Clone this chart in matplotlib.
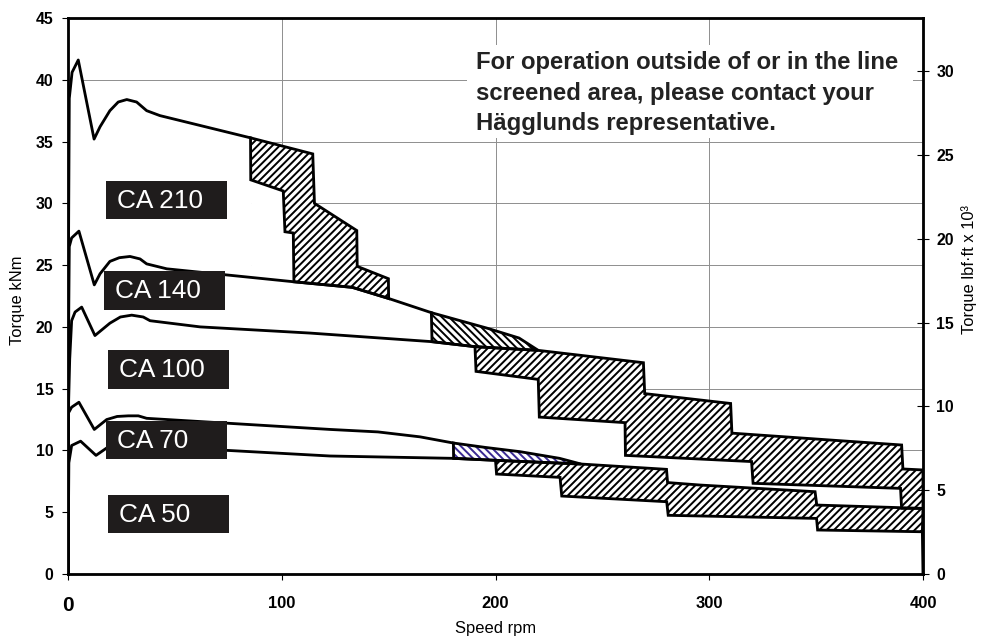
import matplotlib

matplotlib.use("Agg")
import matplotlib.pyplot as plt
import numpy as np
from matplotlib.patches import Polygon, Rectangle

plt.rcParams["font.family"] = "sans-serif"
plt.rcParams["font.sans-serif"] = ["Liberation Sans", "Arial", "DejaVu Sans"]
plt.rcParams["hatch.linewidth"] = 1.6

DPI = 88
KNM_TO_KLBFFT = 0.73756

# torque curves, speed [rpm] vs torque [kNm]
ca210_x = [0, 0.2, 0.6, 1.9, 4.8, 12.2, 15.0, 19.6, 23.5, 27.5, 32.1, 36.8, 43.0, 85.4]
ca210_y = [0, 25.0, 38.5, 40.6, 41.6, 35.2, 36.2, 37.5, 38.2, 38.4, 38.2, 37.5, 37.1, 35.3]

ca140_x = [0, 0.2, 0.6, 1.7, 5.1, 12.3, 15.0, 19.6, 24.0, 29.0, 33.7, 36.8, 46.2, 105.7, 133.0, 150.0, 170.0]
ca140_y = [0, 18.0, 26.5, 27.2, 27.75, 23.4, 24.3, 25.3, 25.6, 25.7, 25.5, 25.1, 24.7, 23.65, 23.2, 22.3, 21.15]

ca100_x = [0, 0.3, 0.8, 1.7, 3.3, 6.4, 12.6, 19.6, 24.5, 29.8, 35.2, 38.4, 61.8, 113.2, 170.6, 190.4]
ca100_y = [0, 14.0, 17.4, 20.5, 21.2, 21.6, 19.3, 20.3, 20.8, 20.95, 20.8, 20.5, 20.0, 19.5, 18.8, 18.4]

ca70_x = [0, 0.1, 1.7, 5.1, 12.3, 18.1, 23.0, 28.2, 32.9, 36.8, 122.6, 145.0, 164.7, 180.3]
ca70_y = [0, 13.0, 13.5, 13.9, 11.7, 12.5, 12.75, 12.8, 12.8, 12.6, 11.7, 11.5, 11.1, 10.6]

ca50_x = [0, 0.4, 1.7, 5.9, 13.1, 18.1, 28.0, 40.0, 75.0, 122.6, 180.3, 200.0]
ca50_y = [0, 9.0, 10.4, 10.75, 9.6, 10.2, 10.4, 10.2, 10.0, 9.55, 9.36, 9.2]

# line screened areas: upper chain and lower chain, both from the left corner
ca210_top_x = [85.4, 114.5, 115.3, 135.1, 135.3, 149.9, 150.0]
ca210_top_y = [35.3, 34.0, 30.0, 27.8, 24.9, 23.9, 22.3]
ca210_bot_x = [85.4, 85.5, 100.7, 101.5, 105.4, 105.7, 133.0, 150.0]
ca210_bot_y = [35.3, 31.9, 31.0, 27.7, 27.6, 23.65, 23.2, 22.3]

ca140_top_x = [170.0, 196.0, 211.0, 220.0]
ca140_top_y = [21.15, 19.9, 19.1, 18.1]
ca140_bot_x = [170.0, 170.3, 190.4, 220.0]
ca140_bot_y = [21.15, 18.8, 18.4, 18.1]

ca100_top_x = [190.4, 220.0, 269.2, 269.8, 310.0, 310.6, 390.0, 390.6, 400.0]
ca100_top_y = [18.4, 18.1, 17.1, 14.6, 13.8, 11.4, 10.44, 8.5, 8.42]
ca100_bot_x = [190.4, 190.9, 220.0, 220.5, 260.6, 260.8, 319.8, 320.5, 389.5, 390.0, 400.0]
ca100_bot_y = [18.4, 16.4, 15.75, 12.7, 12.25, 9.6, 9.1, 7.34, 6.93, 5.31, 5.31]

ca70_top_x = [180.3, 195.0, 211.5, 230.0, 240.0]
ca70_top_y = [10.6, 10.25, 9.9, 9.36, 8.9]
ca70_bot_x = [180.3, 180.4, 200.0, 240.0]
ca70_bot_y = [10.6, 9.36, 9.2, 8.9]

ca50_top_x = [200.0, 240.0, 280.0, 280.5, 295.7, 349.5, 350.3, 400.0]
ca50_top_y = [9.2, 8.9, 8.47, 7.4, 7.2, 6.66, 5.58, 5.31]
ca50_bot_x = [200.0, 200.5, 230.2, 231.0, 280.1, 280.8, 350.2, 350.7, 399.7]
ca50_bot_y = [9.2, 8.09, 7.82, 6.31, 5.85, 4.75, 4.5, 3.56, 3.42]

ca50_drop_x = [399.7, 400.0]
ca50_drop_y = [3.42, 0.0]

models = ["CA 210", "CA 140", "CA 100", "CA 70", "CA 50"]
speed_ticks = [0, 100, 200, 300, 400]
knm_ticks = [0, 5, 10, 15, 20, 25, 30, 35, 40, 45]
lbf_ticks = [0, 5, 10, 15, 20, 25, 30]
note = ("For operation outside of or in the line\n"
        "screened area, please contact your\n"
        "Hägglunds representative.")

curves = [(ca210_x, ca210_y), (ca140_x, ca140_y), (ca100_x, ca100_y),
          (ca70_x, ca70_y), (ca50_x, ca50_y)]
areas = [
    (ca210_top_x, ca210_top_y, ca210_bot_x, ca210_bot_y, "////", "black"),
    (ca140_top_x, ca140_top_y, ca140_bot_x, ca140_bot_y, "\\\\\\\\", "black"),
    (ca100_top_x, ca100_top_y, ca100_bot_x, ca100_bot_y, "////", "black"),
    (ca70_top_x, ca70_top_y, ca70_bot_x, ca70_bot_y, "\\\\\\\\", "#3b2a94"),
    (ca50_top_x, ca50_top_y, ca50_bot_x, ca50_bot_y, "////", "black"),
]
# lower-left corner of the black name plates, in data units
plate_x = [17.8, 17.0, 18.9, 18.0, 18.9]
plate_y = [28.7, 21.4, 15.0, 9.3, 3.3]

fig = plt.figure(figsize=(984 / DPI, 639 / DPI), dpi=DPI)
ax = fig.add_axes([68 / 984, 1 - 574 / 639, 855 / 984, 556 / 639])
ax.set_xlim(0, 400)
ax.set_ylim(0, 45)
ax.set_xticks(speed_ticks, [str(t) for t in speed_ticks])
ax.set_yticks(knm_ticks, [str(t) for t in knm_ticks])
ax.grid(True, color="#8f8f8f", lw=0.8)
ax.set_axisbelow(True)

# envelope is opaque: the grid only shows outside of it
for x, y in curves:
    ax.fill_between(x, 0, y, color="white", lw=0, zorder=1.5)
for tx, ty, bx, by, pat, col in areas:
    ax.fill_between(tx, 0, ty, color="white", lw=0, zorder=1.5)

for tx, ty, bx, by, pat, col in areas:
    xy = np.column_stack([tx + bx[::-1], ty + by[::-1]])
    ax.add_patch(Polygon(xy, closed=True, facecolor="white", edgecolor=col,
                         hatch=pat, lw=0, zorder=2))
    ax.add_patch(Polygon(xy, closed=True, fill=False, edgecolor="black",
                         lw=2.3, joinstyle="miter", zorder=3))

for x, y in curves:
    ax.plot(x, y, color="black", lw=2.3, zorder=3)
ax.plot(ca50_drop_x, ca50_drop_y, color="black", lw=2.3, zorder=3)

for name, px, py in zip(models, plate_x, plate_y):
    ax.add_patch(Rectangle((px, py), 56.5, 3.1, facecolor="#1f1c1c",
                           edgecolor="none", zorder=4))
    ax.text(px + 5, py + 1.5, name, color="white", fontsize=21.5,
            va="center", ha="left", zorder=5)

ax.add_patch(Rectangle((186.7, 35.3), 208.6, 7.5, facecolor="white",
                       edgecolor="none", zorder=4))
ax.text(190.9, 42.3, note, fontsize=19.5, fontweight="bold", color="#222222",
        ha="left", va="top", linespacing=1.42, zorder=5)

for side in ["left", "bottom", "right", "top"]:
    ax.spines[side].set_linewidth(2.3)
    ax.spines[side].set_zorder(6)
ax.tick_params(axis="y", direction="out", length=5, width=0.9, pad=7,
               labelsize=13, right=False)
ax.tick_params(axis="x", direction="out", length=5, width=0.9, pad=13,
               labelsize=13.5, top=False)
for lab in ax.get_xticklabels() + ax.get_yticklabels():
    lab.set_fontweight("bold")
ax.get_xticklabels()[0].set_fontsize(17)

ax.set_xlabel("Speed rpm", fontsize=13.5)
ax.xaxis.set_label_coords(0.5, -0.084)
ax.set_ylabel("Torque kNm", fontsize=13.5)
ax.yaxis.set_label_coords(-0.050, 0.493)

ax2 = ax.twinx()
ax2.set_ylim(0, 45 * KNM_TO_KLBFFT)
ax2.set_yticks(lbf_ticks, [str(t) for t in lbf_ticks])
for side in ax2.spines:
    ax2.spines[side].set_visible(False)
ax2.tick_params(axis="y", direction="inout", length=10, width=0.9, pad=6,
                labelsize=13)
for lab in ax2.get_yticklabels():
    lab.set_fontweight("bold")
ax2.set_ylabel("Torque lbf·ft x 10³", fontsize=13.5)
ax2.yaxis.set_label_coords(1.045, 0.547)

fig.savefig("out.png", dpi=DPI)
